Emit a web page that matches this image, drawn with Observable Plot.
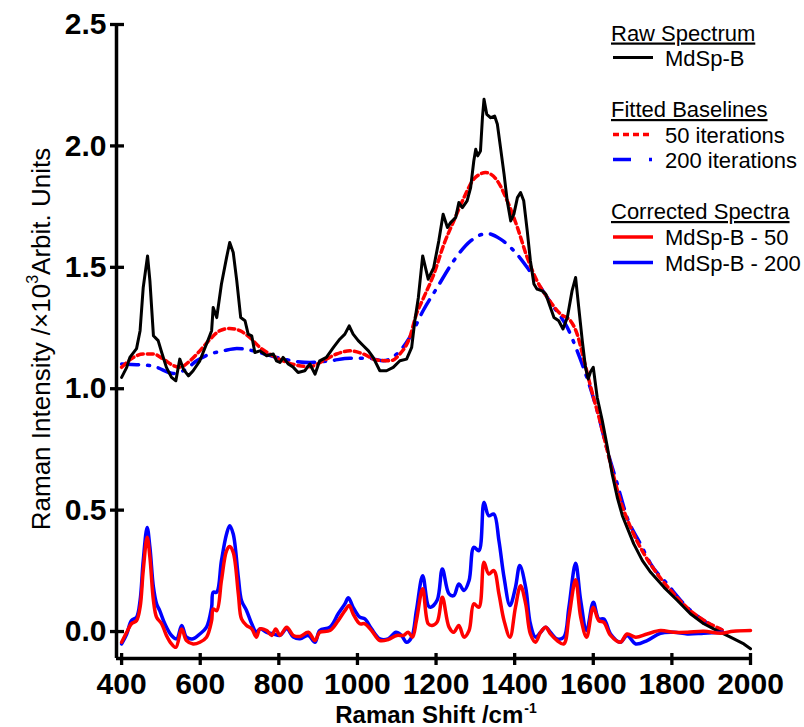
<!DOCTYPE html>
<html><head><meta charset="utf-8">
<script src="https://cdn.jsdelivr.net/npm/d3@7"></script>
<script src="https://cdn.jsdelivr.net/npm/@observablehq/plot@0.6"></script>
<style>body{margin:0;background:#fff} #chart{position:relative;width:804px;height:727px}</style>
</head><body><div id="chart"></div>
<script>
// Raw spectrum (MdSp-B)
const rawX=[400,413,421,438,447,455,466,472,481,493,502,514,527,538,548,557,570,582,599,616,629,633,642,654,667,675,684,693,703,714,722,731,739,752,769,786,794,803,811,824,837,849,866,879,892,904,921,939,955,968,979,989,1002,1015,1028,1040,1057,1074,1091,1108,1125,1138,1146,1155,1166,1180,1194,1207,1218,1229,1237,1250,1258,1267,1279,1288,1296,1301,1306,1313,1318,1322,1329,1339,1349,1356,1364,1373,1381,1390,1398,1407,1415,1423,1432,1440,1449,1457,1470,1479,1491,1500,1512,1523,1534,1546,1555,1563,1572,1580,1587,1593,1600,1610,1623,1636,1648,1661,1674,1686,1703,1725,1746,1780,1814,1847,1881,1915,1949,1983,2000];
const rawY=[1.047,1.088,1.129,1.165,1.239,1.417,1.547,1.444,1.218,1.198,1.149,1.088,1.047,1.033,1.122,1.081,1.053,1.074,1.115,1.184,1.239,1.335,1.293,1.431,1.540,1.602,1.561,1.444,1.293,1.280,1.225,1.218,1.149,1.156,1.136,1.143,1.115,1.108,1.129,1.102,1.088,1.067,1.074,1.102,1.060,1.115,1.129,1.170,1.204,1.225,1.259,1.225,1.198,1.177,1.156,1.129,1.074,1.074,1.088,1.115,1.122,1.170,1.280,1.376,1.547,1.451,1.499,1.609,1.719,1.664,1.684,1.705,1.767,1.746,1.774,1.828,1.938,1.986,1.959,1.979,2.116,2.192,2.130,2.116,2.123,2.089,1.993,1.884,1.774,1.691,1.719,1.787,1.808,1.774,1.650,1.527,1.431,1.410,1.403,1.390,1.335,1.293,1.280,1.246,1.293,1.403,1.458,1.335,1.198,1.090,1.040,1.070,1.088,0.964,0.868,0.758,0.649,0.553,0.477,0.429,0.361,0.292,0.244,0.182,0.128,0.073,0.032,0.004,-0.023,-0.051,-0.071];

// Fitted baseline, 50 iterations
const base50X=[400,430,455,481,506,532,548,574,599,625,650,675,701,726,752,777,811,845,879,913,947,981,1015,1049,1083,1108,1133,1150,1167,1194,1220,1245,1271,1296,1326,1356,1381,1407,1432,1457,1483,1517,1542,1559,1576,1593,1619,1644,1669,1695,1729,1763,1805,1847,1890,1930];
const base50Y=[1.088,1.129,1.143,1.143,1.122,1.095,1.088,1.115,1.156,1.204,1.239,1.248,1.239,1.211,1.170,1.143,1.115,1.097,1.091,1.115,1.143,1.156,1.143,1.118,1.115,1.143,1.211,1.307,1.37,1.47,1.595,1.691,1.787,1.863,1.890,1.856,1.774,1.664,1.540,1.444,1.376,1.307,1.280,1.225,1.120,1.010,0.855,0.690,0.539,0.429,0.320,0.237,0.155,0.086,0.038,0.005];

// Fitted baseline, 200 iterations
const base200X=[400,438,470,489,532,557,591,625,659,693,743,794,845,879,930,981,1032,1066,1100,1133,1167,1203,1245,1288,1330,1364,1398,1432,1466,1500,1534,1559,1585,1610,1636,1661,1686,1720,1746,1788,1839,1881,1932];
const base200Y=[1.102,1.099,1.096,1.088,1.063,1.074,1.115,1.143,1.156,1.166,1.153,1.129,1.112,1.108,1.115,1.126,1.125,1.115,1.143,1.211,1.321,1.417,1.527,1.609,1.639,1.616,1.568,1.499,1.417,1.335,1.252,1.156,1.040,0.909,0.745,0.608,0.470,0.361,0.279,0.196,0.100,0.045,0.004];

// Corrected spectrum, 50 iterations
const corr50X=[400,413,425,438,447,455,465,472,481,489,502,514,527,538,553,565,582,599,616,629,633,642,654,667,675,684,697,705,718,731,743,752,769,782,792,803,820,837,854,875,892,904,930,951,968,979,989,1006,1019,1036,1057,1078,1100,1117,1129,1140,1150,1166,1180,1190,1203,1216,1233,1245,1258,1271,1284,1296,1309,1322,1334,1347,1360,1373,1388,1402,1415,1428,1440,1453,1466,1479,1491,1508,1525,1538,1555,1568,1583,1600,1614,1627,1644,1669,1686,1708,1737,1771,1805,1839,1881,1924,1956,2000];
const corr50Y=[-0.044,-0.003,0.032,0.045,0.100,0.251,0.388,0.306,0.128,0.059,0.032,-0.016,-0.051,-0.065,0.011,-0.037,-0.051,-0.044,-0.023,0.045,0.093,0.086,0.210,0.333,0.350,0.326,0.155,0.052,0.025,0.011,-0.023,0.011,0.004,-0.016,0.011,-0.016,0.018,-0.016,-0.020,-0.003,-0.037,-0.003,0.004,0.045,0.086,0.107,0.073,0.032,0.032,0.004,-0.037,-0.033,-0.016,-0.016,-0.003,-0.023,0.045,0.176,0.032,0.025,0.040,0.141,0.018,-0.003,0.025,-0.023,0.004,0.114,0.100,0.285,0.237,0.251,0.155,0.045,-0.023,0.100,0.189,0.114,-0.010,-0.044,-0.003,0.018,-0.010,-0.037,-0.051,0.059,0.213,0.059,-0.023,0.100,0.045,0.038,-0.016,-0.044,-0.010,-0.023,-0.010,0.004,-0.003,-0.003,0.001,-0.007,0.001,0.004];

// Corrected spectrum, 200 iterations
const corr200X=[400,413,425,438,447,455,465,472,481,489,497,510,527,540,553,565,582,599,616,629,633,642,654,667,675,684,697,705,718,731,743,752,769,786,803,820,837,854,875,892,904,930,951,968,977,989,1006,1019,1036,1057,1078,1098,1112,1125,1138,1150,1166,1180,1186,1203,1216,1233,1245,1258,1271,1284,1296,1309,1322,1334,1347,1360,1373,1388,1402,1413,1428,1440,1453,1466,1479,1491,1508,1525,1538,1555,1568,1583,1600,1614,1627,1644,1669,1686,1708,1737,1771,1805,1839,1881,1930];
const corr200Y=[-0.051,-0.010,0.045,0.059,0.128,0.292,0.429,0.347,0.182,0.114,0.086,0.032,-0.016,-0.030,0.025,-0.023,-0.030,-0.010,0.018,0.100,0.162,0.162,0.292,0.402,0.436,0.402,0.223,0.128,0.086,0.032,-0.003,0.011,-0.003,-0.010,-0.016,0.011,-0.023,-0.030,-0.016,-0.044,0.004,0.018,0.073,0.114,0.139,0.100,0.059,0.052,0.011,-0.030,-0.030,-0.003,-0.016,-0.044,-0.023,0.086,0.230,0.107,0.100,0.130,0.258,0.155,0.148,0.196,0.169,0.210,0.347,0.333,0.532,0.477,0.484,0.374,0.223,0.107,0.182,0.272,0.182,0.032,-0.023,-0.003,0.018,-0.003,-0.030,-0.023,0.100,0.281,0.128,0.004,0.121,0.052,0.052,-0.010,-0.044,-0.016,-0.051,-0.037,-0.007,-0.003,-0.010,-0.007,-0.003];

const xTicks=[400,600,800,1000,1200,1400,1600,1800,2000];
const yTicks=[0,0.5,1,1.5,2,2.5];
const xDomain=[387,2000];
const yDomain=[-0.111,2.5];

const rows=(xs,ys)=>xs.map((x,i)=>({x,y:ys[i]}));
const RED="#ff0000", BLUE="#0000ff";
const axisFont="'Liberation Sans Narrow','Arial Narrow','Liberation Sans',Arial,sans-serif";
const baseFont="'Liberation Sans',Arial,sans-serif";

const plot=Plot.plot({
  width:804,height:727,marginLeft:116,marginRight:54,marginTop:24,marginBottom:69,
  x:{domain:xDomain},y:{domain:yDomain},
  style:{background:"#fff",color:"#000",fontFamily:baseFont},
  marks:[
    Plot.line(rows(base200X,base200Y),{x:"x",y:"y",stroke:BLUE,strokeWidth:3.5,strokeDasharray:"17,9,2,9",curve:"monotone-x"}),
    Plot.line(rows(base50X,base50Y),{x:"x",y:"y",stroke:RED,strokeWidth:3.5,strokeDasharray:"6,4",curve:"monotone-x"}),
    Plot.line(rows(rawX,rawY),{x:"x",y:"y",stroke:"#000",strokeWidth:3}),
    Plot.line(rows(corr200X,corr200Y),{x:"x",y:"y",stroke:BLUE,strokeWidth:3.5,curve:"catmull-rom"}),
    Plot.line(rows(corr50X,corr50Y),{x:"x",y:"y",stroke:RED,strokeWidth:3.5,curve:"catmull-rom"}),
    Plot.ruleX([xDomain[0]],{stroke:"#000",strokeWidth:3.5}),
    Plot.ruleY([yDomain[0]],{stroke:"#000",strokeWidth:3.5}),
    Plot.axisX({ticks:xTicks,tickSize:12,dy:-5,text:null,strokeWidth:3.3,label:null}),
    Plot.axisX({ticks:xTicks,tickSize:0,tickPadding:14,tickFormat:d=>String(d),fontSize:30,fontWeight:"bold",fontFamily:axisFont,label:null}),
    Plot.axisY({ticks:yTicks,tickSize:14,dx:8,text:null,strokeWidth:3.3,label:null}),
    Plot.axisY({ticks:yTicks,tickSize:0,tickPadding:10,tickFormat:d3.format(".1f"),fontSize:30,fontWeight:"bold",fontFamily:axisFont,label:null})
  ]
});
document.getElementById("chart").appendChild(plot);

const svg=d3.select(plot);
// x-axis title
const xt=svg.append("text").attr("x",436).attr("y",723).attr("text-anchor","middle")
  .style("font-family",baseFont).style("font-weight","bold").style("font-size","24px").attr("fill","#000");
xt.append("tspan").text("Raman Shift /cm");
xt.append("tspan").attr("dy",-10).attr("dx",1).style("font-size","14px").text("-1");

// y-axis title
const yt=svg.append("text").attr("transform","translate(50,339) rotate(-90)").attr("text-anchor","middle")
  .style("font-family",baseFont).style("font-size","26px").attr("fill","#000");
yt.append("tspan").text("Raman Intensity /×10");
yt.append("tspan").attr("dy",-12).style("font-size","16px").text("3");
yt.append("tspan").attr("dy",12).text("Arbit. Units");

// legend
const legendHeaders=["Raw Spectrum","Fitted Baselines","Corrected Spectra"];
const legendLabels=["MdSp-B","50 iterations","200 iterations","MdSp-B - 50","MdSp-B - 200"];
const lg=svg.append("g").attr("text-anchor","start").style("font-family",baseFont).style("font-size","22px");
const headerY=[40.5,117,219];
headerY.forEach((y,i)=>lg.append("text").attr("text-anchor","start").attr("x",611).attr("y",y).style("text-decoration","underline").text(legendHeaders[i]));
const items=[
  {y:57.5,stroke:"#000",dash:null,w:3},
  {y:134.5,stroke:RED,dash:"6,4",w:3.5},
  {y:159.5,stroke:BLUE,dash:"18,18,3,40",w:3.5},
  {y:237,stroke:RED,dash:null,w:3.5},
  {y:262.5,stroke:BLUE,dash:null,w:3.5}
];
items.forEach((it,i)=>{
  lg.append("line").attr("x1",613).attr("x2",653).attr("y1",it.y).attr("y2",it.y)
    .attr("stroke",it.stroke).attr("stroke-width",it.w).attr("stroke-dasharray",it.dash);
  lg.append("text").attr("text-anchor","start").attr("x",665).attr("y",it.y+8).text(legendLabels[i]);
});
</script></body></html>
